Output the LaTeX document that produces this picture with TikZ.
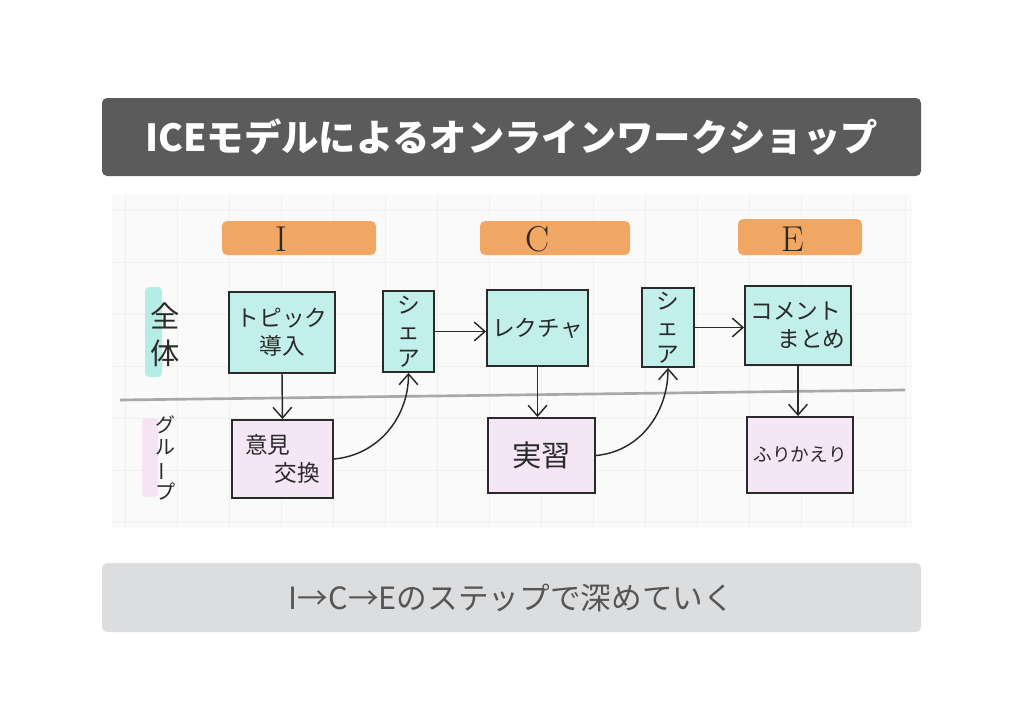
\documentclass[tikz,border=0pt]{standalone}
\usepackage{fontspec}
\usepackage{graphicx}
\usetikzlibrary{arrows.meta}
\newfontfamily\jp{Noto Sans CJK JP}
\newlength\pxu
\setlength\pxu{0.75pt}
\definecolor{titlebg}{HTML}{5B5B5B}
\definecolor{footbg}{HTML}{DCDDDF}
\definecolor{foottext}{HTML}{555555}
\definecolor{paper}{HTML}{FAFAFA}
\definecolor{gridc}{HTML}{F0F0F0}
\definecolor{orangehl}{HTML}{F0A764}
\definecolor{cyanfill}{HTML}{C2EFEA}
\definecolor{cyanhl}{HTML}{B5ECE5}
\definecolor{pinkfill}{HTML}{F4E6F4}
\definecolor{pinkhl}{HTML}{F5E4F3}
\definecolor{inkc}{HTML}{2A2A2A}
\definecolor{divc}{HTML}{A8A8A8}
\tikzset{
  sketchbox/.style={draw=inkc, line width=1.4pt, inner sep=0pt, align=center, text=inkc},
  topbox/.style={sketchbox, fill=cyanfill},
  lowbox/.style={sketchbox, fill=pinkfill},
  hand/.style={font=\jp\fontsize{17}{21}\selectfont},
  arr/.style={draw=inkc, line width=1.1pt, -{Straight Barb[length=8pt,width=14pt,line width=1.1pt]}},
  hlbar/.style={fill=orangehl, rounded corners=5\pxu},
  letter/.style={text=inkc, font=\fontsize{27}{27}\selectfont, inner sep=0pt},
  gridline/.style={draw=gridc, line width=0.6pt}
}
\begin{document}
\begin{tikzpicture}[x=0.75pt, y=-0.75pt]
\useasboundingbox (0,0) rectangle (1024,724);
\fill[white] (0,0) rectangle (1024,724);
% title
\node[fill=titlebg, rounded corners=5\pxu, minimum width=819\pxu, minimum height=78\pxu, inner sep=0pt,
      text=white, font=\jp\bfseries\fontsize{28}{30}\selectfont] (title) at (511.5,137) {ICEモデルによるオンラインワークショップ};
% sketch paper
\fill[paper] (112,195) rectangle (912,528);
\foreach \gx in {125,177,...,905} {\draw[gridline] (\gx,195) -- (\gx,528);}
\foreach \gy in {210,262,...,528} {\draw[gridline] (112,\gy) -- (912,\gy);}
% orange phase bars
\fill[hlbar] (222,221) rectangle (376,255);
\fill[hlbar] (480,221) rectangle (630,255);
\fill[hlbar] (738,219) rectangle (862,255);
\node[letter] (lI) at (281,239) {I};
\node[letter] (lC) at (538,239) {C};
\node[letter] (lE) at (793,239) {E};
% row labels
\fill[cyanhl, rounded corners=4\pxu] (145,287) rectangle (162,377);
\node[text=inkc, font=\jp\fontsize{22}{28}\selectfont, align=center, inner sep=0pt] (zentai) at (165,335) {全\\体};
\fill[pinkhl, rounded corners=4\pxu] (142,418) rectangle (158,497);
\node[text=inkc, font=\jp\fontsize{15}{16}\selectfont, align=center, inner sep=0pt] (group) at (165,458) {グ\\ル\\\rotatebox[origin=c]{90}{ー}\\プ};
% divider
\coordinate (dL) at (120,400);
\coordinate (dR) at (905,390);
\draw[divc, line width=2pt] (dL) -- (dR);
% boxes
\node[topbox, hand, minimum width=106\pxu, minimum height=81\pxu] (t1) at (282,332.5) {トピック\\導入};
\node[topbox, hand, minimum width=51\pxu, minimum height=81\pxu, font=\jp\fontsize{17}{20}\selectfont] (s1) at (408.5,331.5) {シ\\ェ\\ア};
\node[topbox, hand, minimum width=101\pxu, minimum height=76\pxu] (l1) at (537.5,328) {レクチャ};
\node[topbox, hand, minimum width=52\pxu, minimum height=79\pxu, font=\jp\fontsize{17}{20}\selectfont] (s2) at (668,327.5) {シ\\ェ\\ア};
\node[topbox, hand, minimum width=106\pxu, minimum height=79\pxu, align=left] (k1) at (798,325.5) {コメント\\\hspace*{1.2em}まとめ};
\node[lowbox, hand, minimum width=101\pxu, minimum height=78\pxu, align=left] (g1) at (282.5,459) {意見\\\hspace*{1.3em}交換};
\node[lowbox, minimum width=107\pxu, minimum height=75\pxu, font=\jp\fontsize{22}{24}\selectfont] (j1) at (541.5,455.5) {実習};
\node[lowbox, minimum width=106\pxu, minimum height=76\pxu, font=\jp\fontsize{14}{16}\selectfont] (f1) at (800,455) {ふりかえり};
% arrows
\draw[arr] (t1.south) -- (g1.north);
\draw[arr] (g1.east) to[out=5, in=-90] (s1.south);
\draw[arr] (s1.east) -- (s1.east -| l1.west);
\draw[arr] (l1.south) -- (l1.south |- j1.north);
\draw[arr] (j1.east) to[out=5, in=-90] (s2.south);
\draw[arr] (s2.east) -- (s2.east -| k1.west);
\draw[arr] (k1.south) -- (k1.south |- f1.north);
% footer
\node[fill=footbg, rounded corners=5\pxu, minimum width=819\pxu, minimum height=69\pxu, inner sep=0pt,
      text=foottext, font=\jp\fontsize{23}{25}\selectfont] (foot) at (511.5,597.5) {I→C→Eのステップで深めていく};
\end{tikzpicture}
\end{document}
